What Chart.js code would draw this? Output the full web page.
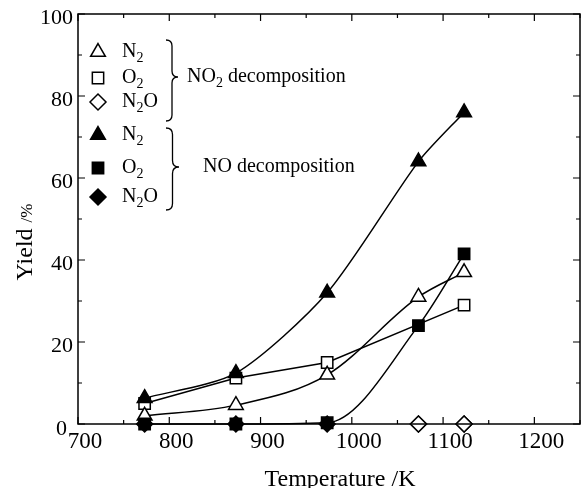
<!DOCTYPE html>
<html>
<head>
<meta charset="utf-8">
<script src="https://cdn.jsdelivr.net/npm/chart.js@4"></script>
<style>
html, body { margin: 0; padding: 0; background: #fff; overflow: hidden; }
#wrap { width: 590px; height: 488px; }
</style>
</head>
<body>
<div id="wrap"><canvas id="yieldChart" width="590" height="488"></canvas></div>
<script>
// reaction temperatures (K) and yields (%)
var temps = [773, 873, 973, 1073, 1123];
var no2N2 = [2, 4.6, 12, 31, 37];
var no2O2 = [5, 11.2, 15, null, 29];
var no2N2O = [null, null, null, 0, 0];
var noN2 = [6.3, 12.4, 32, 64, 76];
var noO2 = [0, 0, 0.3, 24, 41.5];
var noN2O = [0, 0, 0, 0, 0];

var xTicks = [700, 800, 900, 1000, 1100, 1200];
var yTicks = [0, 20, 40, 60, 80, 100];

var SERIF = "'Liberation Serif', 'DejaVu Serif', serif";

function pts(ys) {
  return temps.map(function (t, i) { return { x: t, y: ys[i] }; });
}

// curve: 'spline' | 'monotone' | 'straight'
function series(ys, style, filled, curve, order, showLine) {
  return {
    data: pts(ys),
    pointStyle: style,
    pointRadius: style == 'triangle' ? 8.5 : 8,
    pointBorderWidth: 1.5,
    pointBackgroundColor: filled ? '#000' : '#fff',
    pointBorderColor: '#000',
    borderColor: '#000',
    borderWidth: 1.5,
    cubicInterpolationMode: curve == 'monotone' ? 'monotone' : 'default',
    tension: curve == 'spline' ? 0.25 : 0,
    showLine: showLine,
    spanGaps: true,
    clip: false,
    order: order
  };
}

function richText(ctx, parts, x, y) {
  parts.forEach(function (p) {
    ctx.font = (p[1] ? '14px ' : '20px ') + SERIF;
    ctx.fillText(p[0], x, y + (p[1] ? 6 : 0));
    x += ctx.measureText(p[0]).width;
  });
}

function brace(ctx, x0, y1, ym, y2, w) {
  var s = x0 + w / 2;
  ctx.beginPath();
  ctx.moveTo(x0, y1);
  ctx.quadraticCurveTo(s, y1, s, y1 + w / 2);
  ctx.lineTo(s, ym - w / 2);
  ctx.quadraticCurveTo(s, ym, x0 + w, ym);
  ctx.quadraticCurveTo(s, ym, s, ym + w / 2);
  ctx.lineTo(s, y2 - w / 2);
  ctx.quadraticCurveTo(s, y2, x0, y2);
  ctx.stroke();
}

var frame = {
  id: 'frame',
  afterDraw: function (chart) {
    var ctx = chart.ctx;
    var xs = chart.scales.x, ys = chart.scales.y;
    var a = chart.chartArea;
    ctx.save();
    ctx.strokeStyle = '#000';
    ctx.fillStyle = '#000';
    ctx.lineWidth = 1.5;
    ctx.strokeRect(a.left, a.top, a.right - a.left, a.bottom - a.top);

    ctx.lineWidth = 1.2;
    ctx.beginPath();
    for (var t = 700; t <= 1250; t += 50) {
      var px = xs.getPixelForValue(t);
      var len = t % 100 == 0 ? 7 : 4;
      ctx.moveTo(px, a.bottom); ctx.lineTo(px, a.bottom - len);
      ctx.moveTo(px, a.top); ctx.lineTo(px, a.top + len);
    }
    for (var v = 0; v <= 100; v += 10) {
      var py = ys.getPixelForValue(v);
      var l = v % 20 == 0 ? 7 : 4;
      ctx.moveTo(a.left, py); ctx.lineTo(a.left + l, py);
      ctx.moveTo(a.right, py); ctx.lineTo(a.right - l, py);
    }
    ctx.stroke();

    ctx.font = '23px ' + SERIF;
    ctx.textBaseline = 'middle';
    ctx.textAlign = 'center';
    xTicks.forEach(function (t) {
      ctx.fillText(String(t), xs.getPixelForValue(t) + 7, 442);
    });
    ctx.font = '22px ' + SERIF;
    ctx.textAlign = 'right';
    yTicks.forEach(function (v) {
      var py = ys.getPixelForValue(v) + 4;
      ctx.fillText(String(v), v == 0 ? 67 : 73, v == 0 ? py + 1 : py);
    });

    ctx.textAlign = 'center';
    ctx.textBaseline = 'alphabetic';
    ctx.font = '24px ' + SERIF;
    ctx.fillText('Temperature /K', 340, 486);

    // rotated y title, smaller unit
    ctx.save();
    ctx.translate(32, 242);
    ctx.rotate(-Math.PI / 2);
    ctx.textAlign = 'left';
    ctx.font = '24px ' + SERIF;
    var w1 = ctx.measureText('Yield ').width;
    ctx.font = '17px ' + SERIF;
    var w2 = ctx.measureText('/%').width;
    var sx = -(w1 + w2) / 2;
    ctx.font = '24px ' + SERIF;
    ctx.fillText('Yield ', sx, 0);
    ctx.font = '17px ' + SERIF;
    ctx.fillText('/%', sx + w1, 0);
    ctx.restore();

    // legend
    var rows = [
      ['triangle', false, 52, [['N', 0], ['2', 1]]],
      ['rect', false, 78, [['O', 0], ['2', 1]]],
      ['rectRot', false, 102, [['N', 0], ['2', 1], ['O', 0]]],
      ['triangle', true, 135, [['N', 0], ['2', 1]]],
      ['rect', true, 168, [['O', 0], ['2', 1]]],
      ['rectRot', true, 197, [['N', 0], ['2', 1], ['O', 0]]]
    ];
    ctx.textAlign = 'left';
    ctx.textBaseline = 'middle';
    rows.forEach(function (r) {
      ctx.fillStyle = r[1] ? '#000' : '#fff';
      ctx.strokeStyle = '#000';
      ctx.lineWidth = 1.5;
      Chart.helpers.drawPoint(ctx, {
        pointStyle: r[0], radius: r[0] == 'triangle' ? 8.5 : 8, rotation: 0, borderWidth: 1.5
      }, 98, r[2]);
      ctx.fillStyle = '#000';
      richText(ctx, r[3], 122, r[2]);
    });

    ctx.lineWidth = 1.3;
    brace(ctx, 166, 40, 77, 121, 12);
    brace(ctx, 166, 128, 167, 210, 13);
    richText(ctx, [['NO', 0], ['2', 1], [' decomposition', 0]], 187, 77);
    richText(ctx, [['NO decomposition', 0]], 203, 167);
    ctx.restore();
  }
};

new Chart(document.getElementById('yieldChart'), {
  type: 'scatter',
  data: {
    datasets: [
      series(no2N2O, 'rectRot', false, 'straight', 0, false),
      series(noO2, 'rect', true, 'monotone', 1, true),
      series(noN2, 'triangle', true, 'spline', 2, true),
      series(no2N2, 'triangle', false, 'monotone', 3, true),
      series(no2O2, 'rect', false, 'straight', 4, true),
      series(noN2O, 'rectRot', true, 'straight', 5, false)
    ]
  },
  options: {
    responsive: false,
    animation: false,
    layout: { padding: { left: 78, top: 14, right: 6, bottom: 64 } },
    plugins: { legend: { display: false }, tooltip: { enabled: false } },
    scales: {
      x: { type: 'linear', min: 700, max: 1250, display: false },
      y: { type: 'linear', min: 0, max: 100, display: false }
    }
  },
  plugins: [frame]
});
</script>
</body>
</html>
